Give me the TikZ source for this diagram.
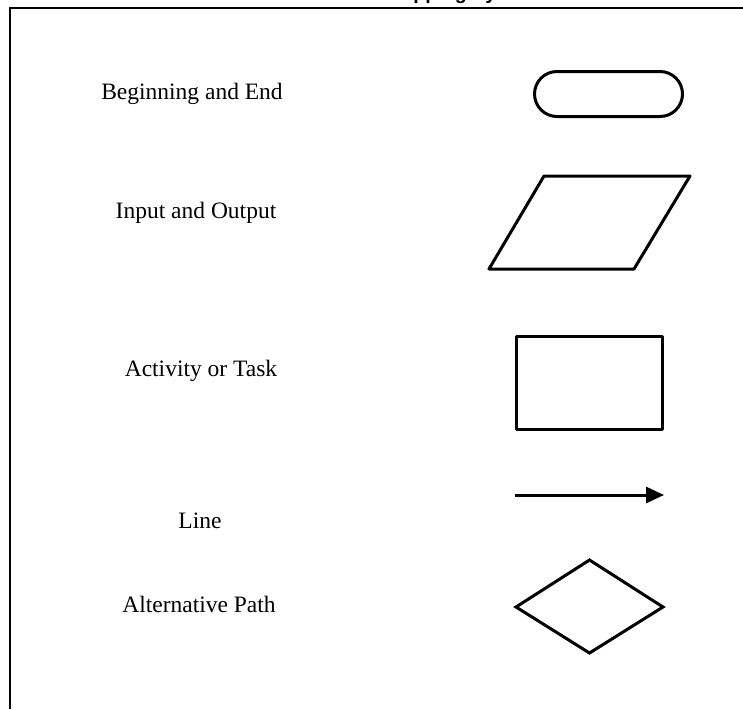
\documentclass[tikz,border=0pt]{standalone}
\usepackage{fontspec}
\setmainfont{Liberation Serif}
\newfontfamily\titlefont{Liberation Sans}
\usetikzlibrary{arrows.meta}

\begin{document}
\begin{tikzpicture}[x=1pt,y=-1pt,
    symshape/.style={line width=3pt},
    symlabel/.style={anchor=base, inner sep=0pt, font=\fontsize{23.5}{28}\selectfont}]
	\useasboundingbox (0,0) rectangle (743,709);

	% Title (cut off by the top edge)
	\node[anchor=base west, inner sep=0pt, font=\titlefont\bfseries\fontsize{19.6}{24}\selectfont] (title) at (386,-0.5) {Mapping Symbols};

	% Frame
	\draw[line width=2pt] (743,8) -- (10,8) -- (10,709);

	% Labels
	\node[symlabel] (lbegin) at (192,99) {Beginning and End};
	\node[symlabel] (lio) at (196,218) {Input and Output};
	\node[symlabel] (ltask) at (201,376) {Activity or Task};
	\node[symlabel] (lline) at (200,528) {Line};
	\node[symlabel] (lalt) at (199,612) {Alternative Path};

	% Symbols
	\draw[symshape, rounded corners=22.5pt] (534.5,71.5) rectangle (682.5,116.5);
	\draw[symshape, line join=round] (544,176) -- (690,176) -- (634,269) -- (489,269) -- cycle;
	\draw[symshape, line join=round] (516.5,336.5) rectangle (662.5,429.5);
	\coordinate (lstart) at (515,495);
	\coordinate (lend) at (664,495);
	\draw[symshape, -{Triangle[length=18pt,width=16pt]}] (lstart) -- (lend);
	\draw[symshape] (589.5,560) -- (663,607) -- (589.5,653) -- (516,607) -- cycle;
\end{tikzpicture}
\end{document}
